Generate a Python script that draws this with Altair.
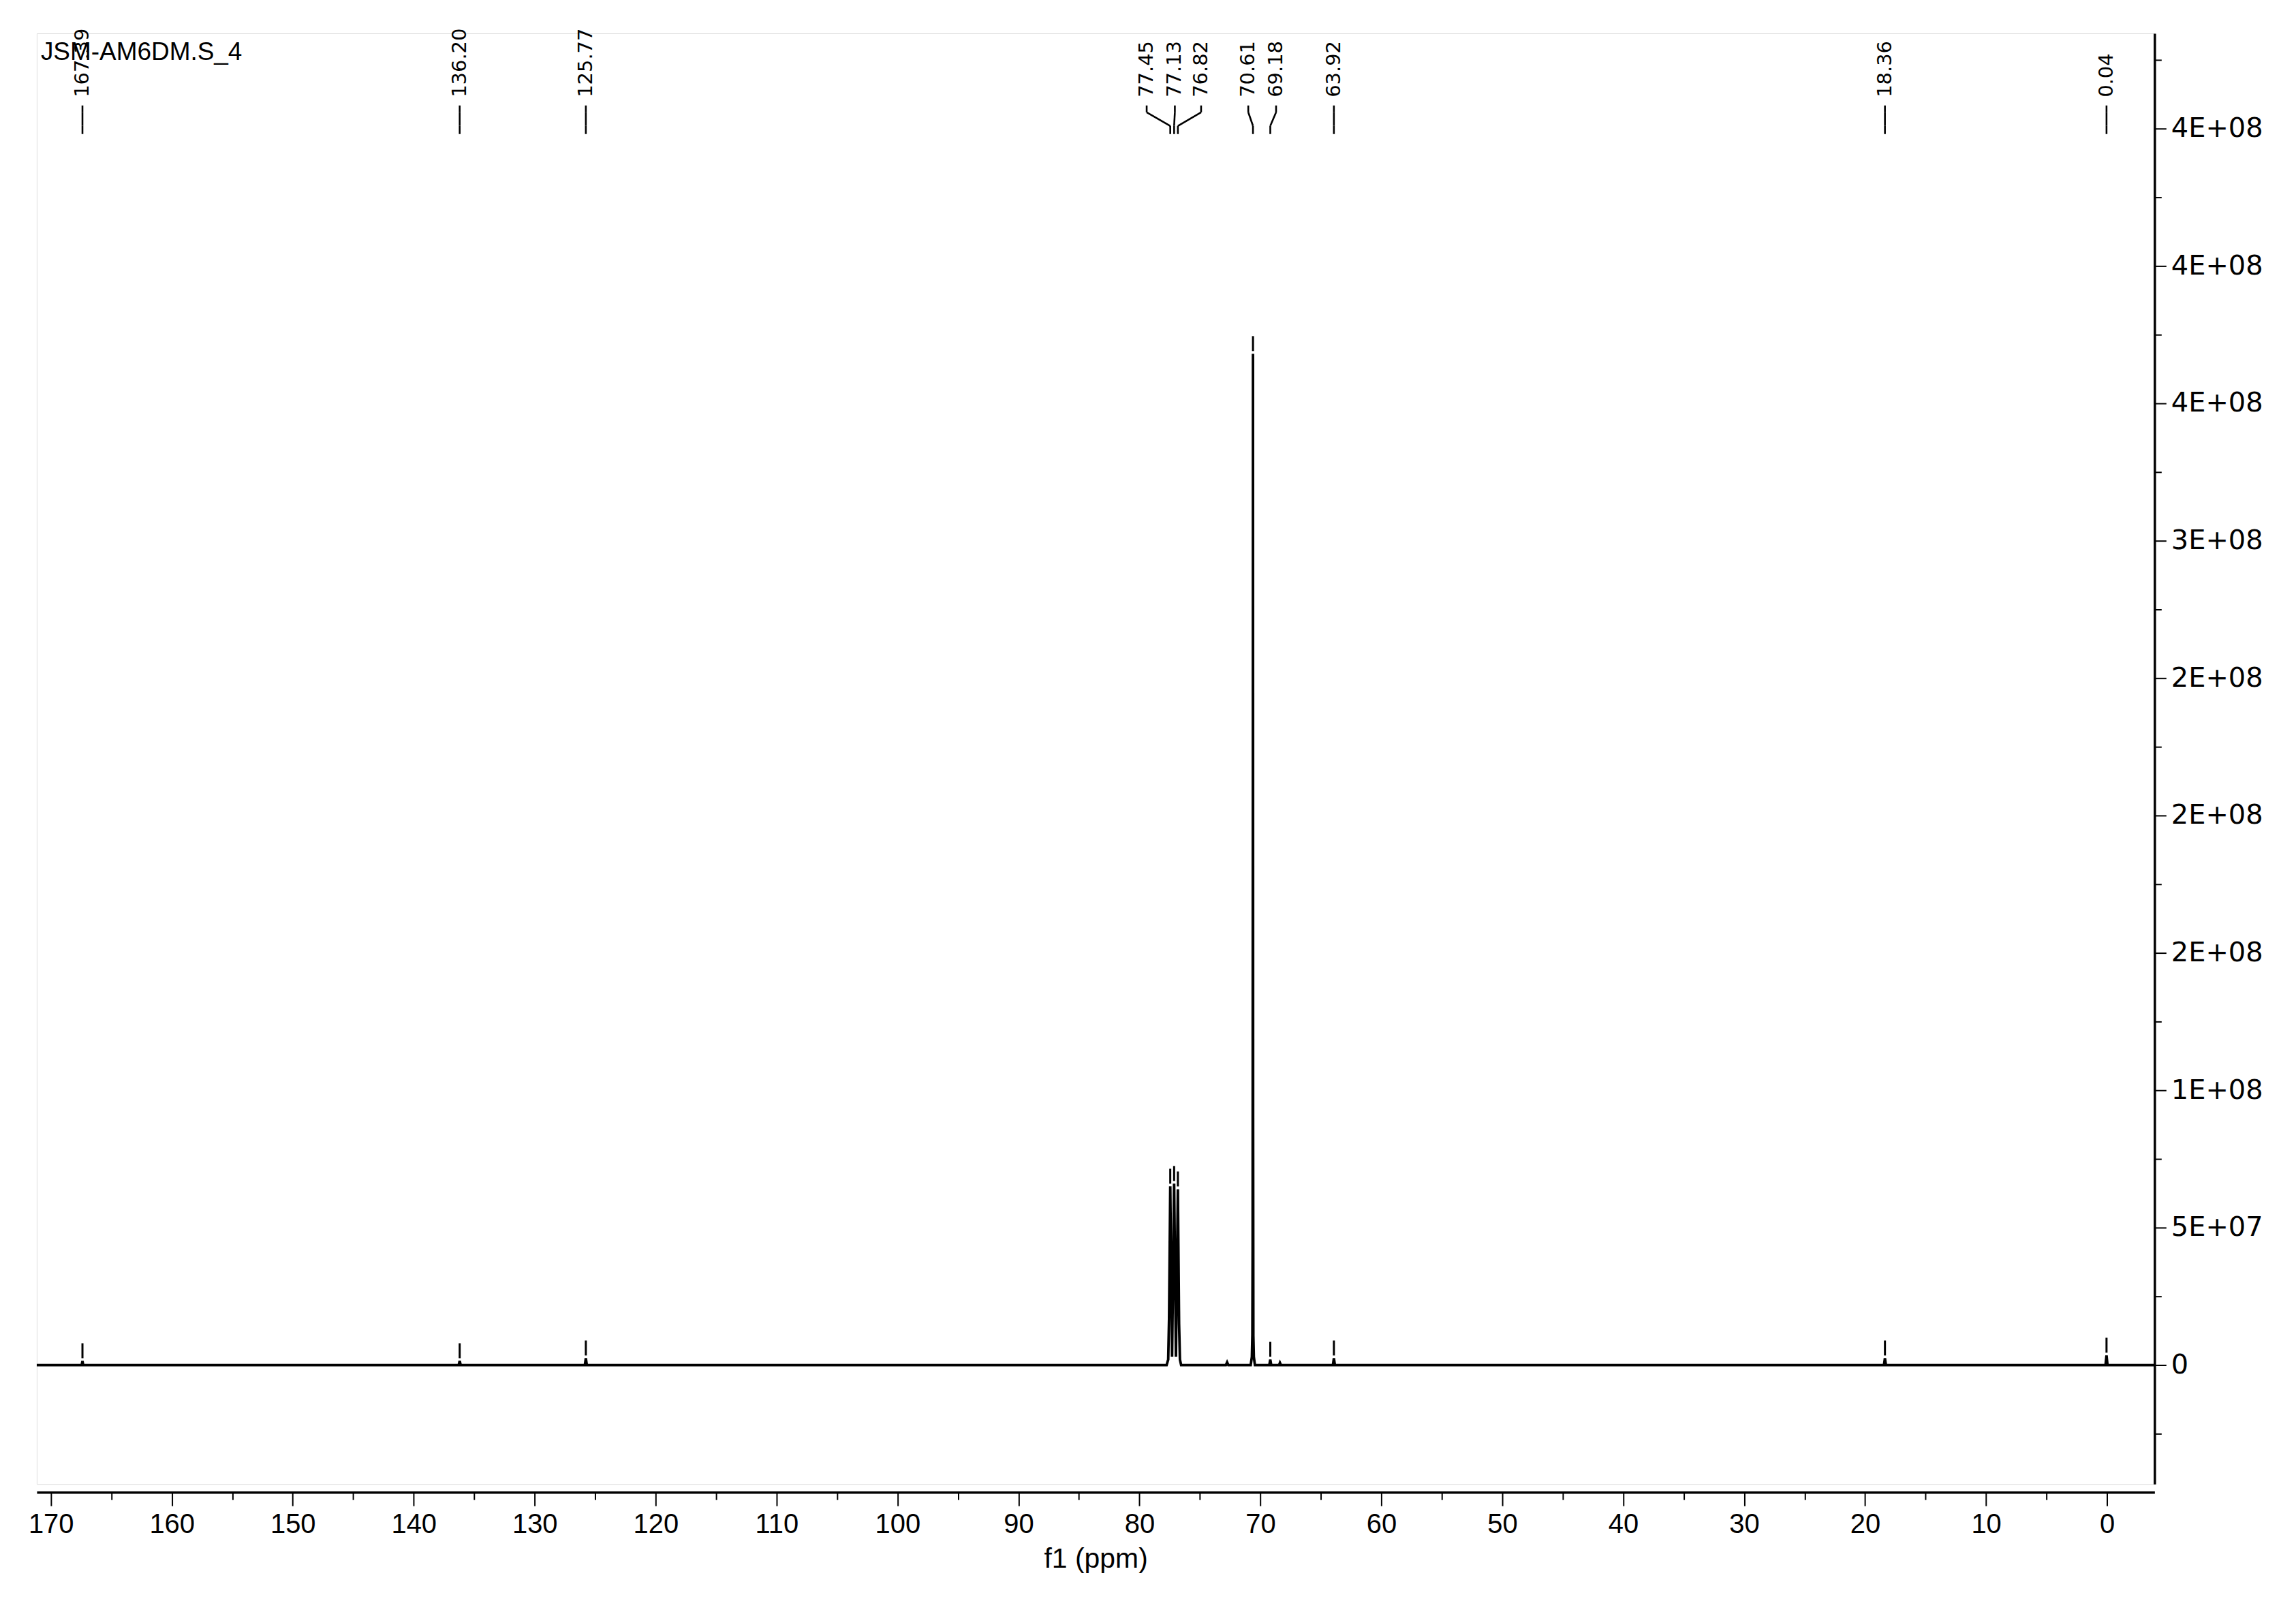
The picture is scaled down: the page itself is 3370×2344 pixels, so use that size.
import altair as alt
import pandas as pd

# ---- spectrum points (ppm, intensity) ----
spec_ppm = [171.2, 167.45, 167.39, 167.33, 136.28, 136.20, 136.12, 125.85, 125.77, 125.69,
            77.75, 77.62, 77.55, 77.45, 77.30, 77.13, 76.98, 76.82, 76.72, 76.65, 76.55,
            72.85, 72.75, 72.65,
            70.80, 70.70, 70.66, 70.64, 70.63, 70.62, 70.61, 70.60, 70.58, 70.54, 70.45,
            69.26, 69.18, 69.10, 68.45, 68.38, 68.30,
            64.00, 63.92, 63.84, 18.44, 18.36, 18.28, 0.12, 0.04, -0.04, -3.93]
spec_int = [0, 0, 1.5e6, 0, 0, 1.5e6, 0, 0, 2.5e6, 0,
            0, 2e6, 1.7e7, 6.5e7, 3e6, 6.6e7, 3e6, 6.4e7, 1.5e7, 2e6, 0,
            0, 1e6, 0,
            0, 3e6, 1.1e7, 4.3e7, 1.35e8, 2.18e8, 3.68e8, 9e7, 1.06e7, 3e6, 0,
            0, 2e6, 0, 0, 0.8e6, 0,
            0, 2.5e6, 0, 0, 2.5e6, 0, 0, 3.5e6, 0, 0]

# ---- peak picking labels ----
peak_labels = ["167.39", "136.20", "125.77", "77.45", "77.13", "76.82",
               "70.61", "69.18", "63.92", "18.36", "0.04"]
peak_ppm = [167.39, 136.20, 125.77, 77.45, 77.13, 76.82, 70.61, 69.18, 63.92, 18.36, 0.04]
label_ppm = [167.39, 136.20, 125.77, 79.4, 77.07, 74.9, 71.0, 68.7, 63.92, 18.36, 0.04]
peak_height = [1.5e6, 1.5e6, 2.5e6, 6.5e7, 6.6e7, 6.4e7, 3.68e8, 2e6, 2.5e6, 2.5e6, 3.5e6]

# ---- axes ----
x_major = list(range(0, 171, 10))
x_minor = list(range(5, 171, 10))
y_major = [0, 5e7, 1e8, 1.5e8, 2e8, 2.5e8, 3e8, 3.5e8, 4e8, 4.5e8]
y_labels = ["0", "5E+07", "1E+08", "2E+08", "2E+08", "2E+08", "3E+08", "4E+08", "4E+08", "4E+08"]
y_minor = [-2.5e7, 2.5e7, 7.5e7, 1.25e8, 1.75e8, 2.25e8, 2.75e8, 3.25e8, 3.75e8, 4.25e8, 4.75e8]

title_text = "JSM-AM6DM.S_4"

spec = pd.DataFrame({"ppm": spec_ppm, "intensity": spec_int})
peaks = pd.DataFrame({"label": peak_labels, "peak": peak_ppm, "lab": label_ppm, "h": peak_height})

W, H = 3114, 2133
xscale = alt.Scale(domain=[-3.93, 171.17], reverse=True, nice=False, zero=False)
yscale = alt.Scale(domain=[-4.33e7, 4.846e8], nice=False, zero=False)

NARROW = "Liberation Sans, Arial, sans-serif"
WIDE = "DejaVu Sans, Verdana, sans-serif"

label_expr = "[" + ",".join("'%s'" % s for s in y_labels) + "][indexof([" + \
    ",".join(str(int(v)) for v in y_major) + "], datum.value)]"

line = alt.Chart(spec).mark_line(color="black", strokeWidth=3.8, clip=True).encode(
    x=alt.X("ppm:Q", scale=xscale,
            axis=alt.Axis(orient="bottom", values=x_major, format="d", title="f1 (ppm)", grid=False,
                          offset=12, tickSize=20, tickWidth=2, domainWidth=3.5, domainColor="black",
                          tickColor="black", labelFont=NARROW, labelFontSize=40, labelColor="black",
                          labelPadding=7, titleFont=NARROW, titleFontSize=41, titleFontWeight="normal",
                          titleColor="black", titlePadding=12, labelFlush=False)),
    y=alt.Y("intensity:Q", scale=yscale,
            axis=alt.Axis(orient="right", values=y_major, labelExpr=label_expr, title=None, grid=False,
                          tickSize=17, tickWidth=2, domainWidth=3.5, domainColor="black", tickColor="black",
                          labelFont=WIDE, labelFontSize=40, labelColor="black", labelPadding=7,
                          labelFlush=False)),
)

minor = alt.Chart(spec).mark_point(opacity=0).encode(
    x=alt.X("ppm:Q", scale=xscale,
            axis=alt.Axis(orient="bottom", values=x_minor, labels=False, title=None, grid=False,
                          domain=False, offset=12, tickSize=11, tickWidth=2, tickColor="black")),
    y=alt.Y("intensity:Q", scale=yscale,
            axis=alt.Axis(orient="right", values=y_minor, labels=False, title=None, grid=False,
                          domain=False, tickSize=10, tickWidth=2, tickColor="black")),
)

markers = alt.Chart(peaks).mark_rule(color="black", strokeWidth=3, yOffset=-4, y2Offset=-26).encode(
    x=alt.X("peak:Q", scale=xscale, axis=None),
    y=alt.Y("h:Q", scale=yscale, axis=None),
    y2="h:Q",
)

seg1 = alt.Chart(peaks).mark_rule(color="black", strokeWidth=2.6).encode(
    x=alt.X("lab:Q", scale=xscale, axis=None), y=alt.value(106), y2=alt.value(116))
seg2 = alt.Chart(peaks).mark_rule(color="black", strokeWidth=2.6).encode(
    x=alt.X("lab:Q", scale=xscale, axis=None), x2="peak:Q", y=alt.value(116), y2=alt.value(136))
seg3 = alt.Chart(peaks).mark_rule(color="black", strokeWidth=2.6).encode(
    x=alt.X("peak:Q", scale=xscale, axis=None), y=alt.value(136), y2=alt.value(148))

texts = alt.Chart(peaks).mark_text(angle=270, align="left", baseline="middle", font=WIDE,
                                   fontSize=29, color="black").encode(
    x=alt.X("lab:Q", scale=xscale, axis=None), y=alt.value(94), text="label:N")

title = alt.Chart(pd.DataFrame({"t": [title_text]})).mark_text(
    align="left", baseline="alphabetic", font=NARROW, fontSize=37, color="black").encode(
    x=alt.value(6), y=alt.value(39), text="t:N")

chart = alt.layer(line, minor, markers, seg1, seg2, seg3, texts, title).resolve_axis(
    x="independent", y="independent"
).properties(
    width=W, height=H,
    autosize=alt.AutoSizeParams(type="none"),
    padding={"left": 46, "top": 39, "right": 200, "bottom": 150},
).configure_view(stroke=None).configure(background="white")

chart.save("out.html", embed_options={"renderer": "svg", "actions": False})
